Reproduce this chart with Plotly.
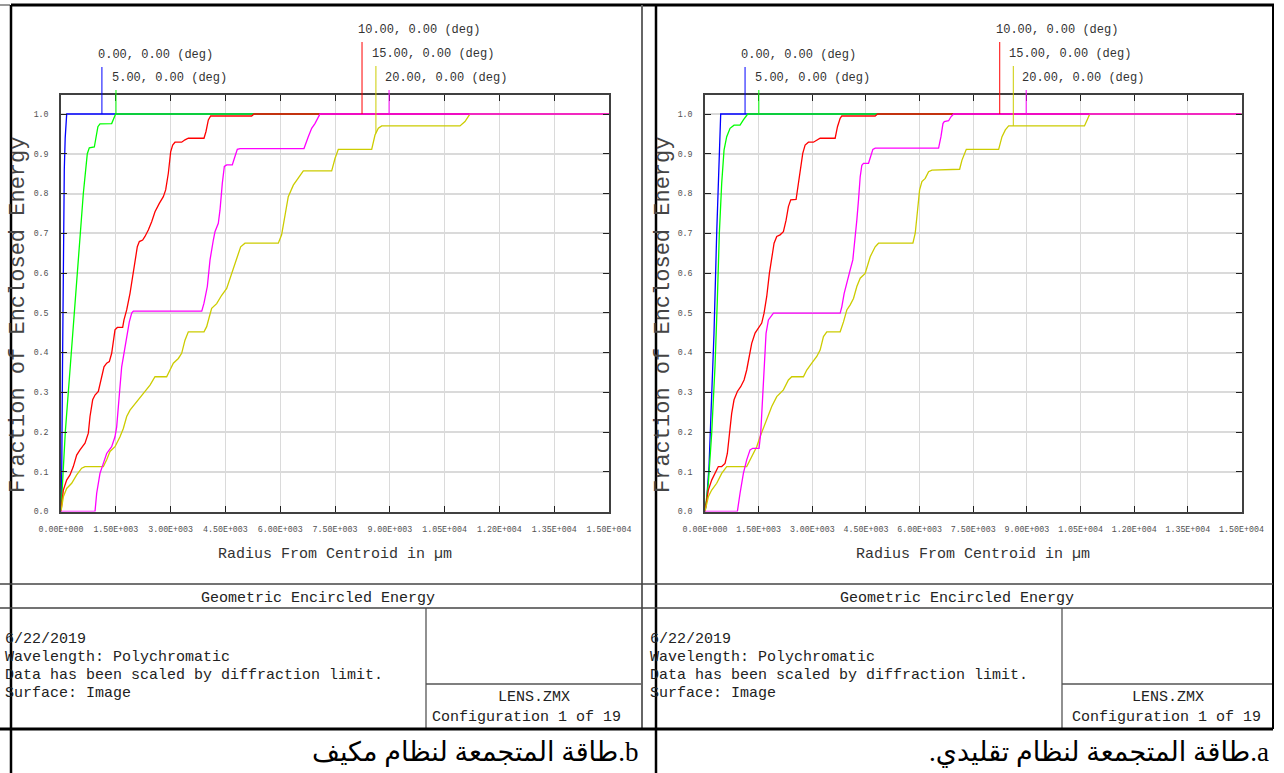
import numpy as np
import plotly.graph_objects as go

W, H = 1284, 773

# ---------------------------------------------------------------- data ----
field_names = ["0.00, 0.00 (deg)", "5.00, 0.00 (deg)", "10.00, 0.00 (deg)",
               "15.00, 0.00 (deg)", "20.00, 0.00 (deg)"]
field_colors = ["#0000ff", "#00ff00", "#ff0000", "#cccc00", "#ff00ff"]
# radius (µm) at which each field's tag stem is drawn
label_radius = [1120, 1505, 8240, 8620, 8980]

x_tick_vals = [0, 1500, 3000, 4500, 6000, 7500, 9000, 10500, 12000, 13500, 15000]
x_tick_text = ["0.00E+000", "1.50E+003", "3.00E+003", "4.50E+003", "6.00E+003",
               "7.50E+003", "9.00E+003", "1.05E+004", "1.20E+004", "1.35E+004",
               "1.50E+004"]
y_tick_vals = [0.0, 0.1, 0.2, 0.3, 0.4, 0.5, 0.6, 0.7, 0.8, 0.9, 1.0]
y_tick_text = ["0.0", "0.1", "0.2", "0.3", "0.4", "0.5", "0.6", "0.7", "0.8", "0.9", "1.0"]

# --- adaptive system (b): radius from centroid (µm) / enclosed fraction
b_r_0 = [0, 20, 40, 64, 90, 115, 156, 15000]
b_e_0 = [0, 0.10, 0.35, 0.70, 0.86, 0.94, 1.0, 1.0]

b_r_5 = [0, 40, 118, 447, 611, 720, 775, 912, 960, 1010, 1067, 1387, 1496, 15000]
b_e_5 = [0, 0.07, 0.2, 0.6, 0.8, 0.9, 0.915, 0.917, 0.945, 0.968, 0.975, 0.976, 1.0, 1.0]

b_r_10 = [0, 64, 155, 246, 337, 429, 520, 657, 748, 794, 867, 931, 1022, 1085, 1177,
          1250, 1323, 1387, 1478, 1542, 1688, 1724, 1798, 1889, 1962, 2025, 2089, 2144,
          2235, 2299, 2390, 2482, 2573, 2691, 2801, 2865, 2938, 3002, 3057, 3120, 3303,
          3394, 3485, 3914, 3969, 4033, 4097, 5219, 5283, 15000]
b_e_10 = [0, 0.054, 0.079, 0.092, 0.113, 0.142, 0.155, 0.172, 0.197, 0.239, 0.281, 0.293,
          0.302, 0.331, 0.364, 0.373, 0.377, 0.398, 0.457, 0.463, 0.463, 0.482, 0.507,
          0.549, 0.591, 0.633, 0.666, 0.679, 0.683, 0.692, 0.708, 0.729, 0.754, 0.775,
          0.792, 0.809, 0.851, 0.905, 0.922, 0.929, 0.929, 0.935, 0.939, 0.939, 0.956,
          0.985, 0.995, 0.995, 1.0, 1.0]

b_r_15 = [0, 64, 155, 292, 429, 566, 657, 1159, 1250, 1341, 1478, 1615, 1706, 1798, 1889,
          2071, 2253, 2436, 2573, 2892, 2983, 3075, 3212, 3303, 3394, 3485, 3914, 3987,
          4060, 4124, 4261, 4398, 4535, 4671, 4808, 4918, 5036, 5948, 6039, 6131, 6221,
          6359, 6542, 6633, 7409, 7500, 7590, 8504, 8595, 8686, 8778, 10921, 11058,
          11195, 15000]
b_e_15 = [0, 0.037, 0.058, 0.071, 0.092, 0.109, 0.113, 0.113, 0.130, 0.151, 0.163, 0.188,
          0.209, 0.239, 0.255, 0.276, 0.297, 0.318, 0.339, 0.339, 0.356, 0.373, 0.385,
          0.398, 0.431, 0.452, 0.452, 0.465, 0.490, 0.511, 0.523, 0.544, 0.561, 0.599,
          0.641, 0.666, 0.675, 0.675, 0.696, 0.741, 0.792, 0.821, 0.847, 0.857, 0.857,
          0.888, 0.911, 0.911, 0.947, 0.964, 0.970, 0.970, 0.981, 1.0, 1.0]

b_r_20 = [0, 931, 977, 1067, 1159, 1250, 1387, 1478, 1524, 1569, 1615, 1661, 1724, 1798,
          1870, 1935, 1980, 3853, 3914, 4005, 4079, 4170, 4215, 4306, 4352, 4416, 4471,
          4535, 4689, 4744, 4826, 4900, 6651, 6769, 6861, 6951, 7089, 15000]
b_e_20 = [0, 0, 0.046, 0.096, 0.121, 0.146, 0.163, 0.188, 0.213, 0.255, 0.314, 0.364,
          0.398, 0.431, 0.477, 0.499, 0.504, 0.504, 0.524, 0.566, 0.633, 0.683, 0.704,
          0.725, 0.758, 0.826, 0.868, 0.872, 0.872, 0.888, 0.911, 0.913, 0.913, 0.943,
          0.964, 0.976, 1.0, 1.0]

# --- conventional system (a)
a_r_0 = [0, 47, 112, 187, 252, 327, 392, 439, 15000]
a_e_0 = [0, 0.029, 0.113, 0.281, 0.449, 0.70, 0.909, 1.0, 1.0]

a_r_5 = [0, 93, 187, 280, 345, 401, 467, 532, 607, 700, 812, 980, 1073, 1166, 1194, 15000]
a_e_5 = [0, 0.071, 0.197, 0.365, 0.532, 0.70, 0.826, 0.909, 0.943, 0.964, 0.972, 0.972,
         0.985, 0.998, 1.0, 1.0]

a_r_10 = [0, 93, 187, 280, 373, 467, 560, 625, 681, 746, 812, 905, 998, 1092, 1166, 1241,
          1306, 1400, 1493, 1586, 1651, 1726, 1800, 1866, 1931, 2006, 2099, 2192, 2267,
          2332, 2397, 2547, 2584, 2659, 2733, 2799, 2892, 3032, 3125, 3219, 3639, 3704,
          3779, 3825, 4758, 4824, 15000]
a_e_10 = [0, 0.054, 0.079, 0.096, 0.113, 0.113, 0.121, 0.146, 0.197, 0.247, 0.281, 0.302,
          0.314, 0.331, 0.356, 0.390, 0.423, 0.449, 0.461, 0.474, 0.499, 0.541, 0.599,
          0.641, 0.675, 0.692, 0.696, 0.704, 0.733, 0.767, 0.784, 0.785, 0.809, 0.859,
          0.901, 0.922, 0.929, 0.929, 0.935, 0.939, 0.939, 0.968, 0.989, 0.995, 0.995,
          1.0, 1.0]

a_r_15 = [0, 93, 187, 327, 467, 607, 1166, 1260, 1353, 1446, 1540, 1633, 1726, 1866, 2006,
          2192, 2332, 2426, 2752, 2845, 2985, 3125, 3219, 3312, 3405, 3779, 3872, 3965,
          4059, 4152, 4245, 4339, 4478, 4619, 4758, 4851, 5813, 5878, 5943, 6000, 6065,
          6158, 6251, 6345, 7119, 7185, 7306, 8210, 8304, 8397, 8490, 10609, 10684,
          10758, 15000]
a_e_15 = [0, 0.037, 0.054, 0.071, 0.096, 0.113, 0.113, 0.130, 0.146, 0.163, 0.188, 0.209,
          0.230, 0.264, 0.289, 0.306, 0.331, 0.339, 0.339, 0.356, 0.373, 0.390, 0.406,
          0.440, 0.452, 0.452, 0.477, 0.507, 0.520, 0.536, 0.566, 0.587, 0.599, 0.641,
          0.666, 0.675, 0.675, 0.700, 0.758, 0.809, 0.830, 0.838, 0.855, 0.859, 0.861,
          0.884, 0.911, 0.911, 0.943, 0.960, 0.970, 0.970, 0.985, 1.0, 1.0]

a_r_20 = [0, 905, 980, 1073, 1166, 1260, 1334, 1511, 1558, 1614, 1661, 1707, 1773, 1866,
          1913, 3779, 3825, 3891, 3965, 4059, 4133, 4199, 4245, 4292, 4339, 4385, 4432,
          4572, 4619, 4693, 4758, 6531, 6597, 6653, 6690, 6811, 6877, 6951, 15000]
a_e_20 = [0, 0, 0.046, 0.096, 0.130, 0.155, 0.159, 0.159, 0.197, 0.281, 0.364, 0.448,
          0.482, 0.494, 0.499, 0.499, 0.515, 0.549, 0.578, 0.608, 0.633, 0.683, 0.733,
          0.784, 0.842, 0.871, 0.876, 0.876, 0.892, 0.911, 0.914, 0.914, 0.943, 0.976,
          0.981, 0.983, 0.993, 1.0, 1.0]

panel_b_curves = [(b_r_0, b_e_0), (b_r_5, b_e_5), (b_r_10, b_e_10),
                  (b_r_15, b_e_15), (b_r_20, b_e_20)]
panel_a_curves = [(a_r_0, a_e_0), (a_r_5, a_e_5), (a_r_10, a_e_10),
                  (a_r_15, a_e_15), (a_r_20, a_e_20)]

caption_b = "\u202bb.طاقة المتجمعة لنظام مكيف\u202c"
caption_a = "\u202ba.طاقة المتجمعة لنظام تقليدي.\u202c"
info_lines = ["6/22/2019", "Wavelength: Polychromatic",
              "Data has been scaled by diffraction limit.", "Surface: Image"]

# -------------------------------------------------------------- layout ----
PLOT_TOP, PLOT_BOTTOM = 95, 511.5
Y_MAX = 1.0478
stem_top_px = [67, 90, 42, 66, 90]
MONO = "Liberation Mono"


def fx(px):
    return px / W


def fy(py):
    return 1 - py / H


def val_to_paper(v):
    lo, hi = fy(PLOT_BOTTOM), fy(PLOT_TOP)
    return lo + v / Y_MAX * (hi - lo)


def note(px, py, text, size=15, color="#222222", family=MONO, xanchor="center", **kw):
    return dict(x=fx(px), y=fy(py), xref="paper", yref="paper", text=text,
                showarrow=False, xanchor=xanchor, yanchor="middle",
                font=dict(family=family, size=size, color=color), **kw)


panels = [
    dict(curves=panel_b_curves, xa="x", ya="y", x0=61, x1=609, dx=0,
         title_cx=318, info_split=426, right_edge=642, lens_cx=534, conf_cx=526,
         ytitle_x=18, caption=caption_b, caption_right=641),
    dict(curves=panel_a_curves, xa="x2", ya="y2", x0=705, x1=1241.5, dx=645,
         title_cx=957, info_split=1062, right_edge=1273, lens_cx=1168, conf_cx=1166,
         ytitle_x=663, caption=caption_a, caption_right=1271),
]

fig = go.Figure()
shapes, annotations = [], []

axis_common = dict(showline=True, linecolor="#404040", linewidth=1.5, mirror="ticks",
                   ticks="inside", ticklen=6, tickwidth=1.2, tickcolor="#202020",
                   showgrid=True, gridcolor="#dadada", zeroline=False, fixedrange=True,
                   automargin=False,
                   tickfont=dict(family=MONO, size=8.3, color="#505050"))

layout_axes = {}
for k, p in enumerate(panels):
    sfx = "" if k == 0 else "2"
    layout_axes["xaxis" + sfx] = dict(axis_common, domain=[fx(p["x0"]), fx(p["x1"])],
                                      anchor="y" + sfx, range=[0, 15000],
                                      tickvals=x_tick_vals, ticktext=x_tick_text,
                                      ticklabelstandoff=9, gridwidth=1)
    layout_axes["yaxis" + sfx] = dict(axis_common, domain=[fy(PLOT_BOTTOM), fy(PLOT_TOP)],
                                      anchor="x" + sfx, range=[0, Y_MAX],
                                      tickvals=y_tick_vals, ticktext=y_tick_text,
                                      ticklabelstandoff=9, gridwidth=1.5)

    # encircled-energy curves
    for (r, e), col, name in zip(p["curves"], field_colors, field_names):
        fig.add_trace(go.Scatter(x=r, y=e, mode="lines", name=name,
                                 line=dict(color=col, width=1.3),
                                 xaxis=p["xa"], yaxis=p["ya"], showlegend=False,
                                 hoverinfo="skip"))

    # field tags: stem dropping onto the curve plus the field label
    for (r, e), col, name, rx, top in zip(p["curves"], field_colors, field_names,
                                          label_radius, stem_top_px):
        v = float(np.interp(rx, r, e))
        shapes.append(dict(type="line", xref=p["xa"], yref="paper", x0=rx, x1=rx,
                           y0=val_to_paper(v), y1=fy(top),
                           line=dict(color=col, width=1), layer="above"))
        annotations.append(dict(x=rx, xref=p["xa"], y=fy(top - 12), yref="paper",
                                text=name, showarrow=False, xanchor="left",
                                yanchor="middle", xshift=-6,
                                font=dict(family=MONO, size=12, color="#333333")))

    # axis titles
    cx = (p["x0"] + p["x1"]) / 2
    annotations.append(note(cx, 554, "Radius From Centroid in µm", color="#333333"))
    annotations.append(note(p["ytitle_x"], 315, "Fraction of Enclosed Energy", size=22,
                            color="#444444", textangle=-90))

    # title block
    annotations.append(note(p["title_cx"], 598, "Geometric Encircled Energy"))
    for i, line in enumerate(info_lines):
        annotations.append(note(3 + p["dx"], 639 + 18.3 * i, line, xanchor="left"))
    annotations.append(note(p["lens_cx"], 697, "LENS.ZMX"))
    annotations.append(note(p["conf_cx"], 717, "Configuration 1 of 19"))
    annotations.append(note(p["caption_right"], 752, p["caption"], size=27,
                            color="#000000", family="Liberation Serif, DejaVu Sans",
                            xanchor="right"))

    # info box dividers
    shapes.append(dict(type="line", xref="paper", yref="paper",
                       x0=fx(p["info_split"]), x1=fx(p["info_split"]),
                       y0=fy(608), y1=fy(729), line=dict(color="#555555", width=1.3)))
    shapes.append(dict(type="line", xref="paper", yref="paper",
                       x0=fx(p["info_split"]), x1=fx(p["right_edge"]),
                       y0=fy(684), y1=fy(684), line=dict(color="#555555", width=1.3)))


def seg(x0, y0, x1, y1, color, width):
    return dict(type="line", xref="paper", yref="paper", x0=fx(x0), y0=fy(y0),
                x1=fx(x1), y1=fy(y1), line=dict(color=color, width=width))


# page frame
shapes += [
    seg(0, 5, 10, 5, "#777777", 1.5),
    seg(11, 5, 1274, 5, "#000000", 3),
    seg(11, 5, 11, 773, "#000000", 2.5),
    seg(642, 5, 642, 729, "#666666", 2),
    seg(656, 5, 656, 773, "#000000", 2.5),
    seg(1273, 5, 1273, 729, "#000000", 2),
    seg(0, 584, 1273, 584, "#444444", 1.3),
    seg(0, 608, 1273, 608, "#444444", 1.3),
    seg(0, 729, 1273, 729, "#000000", 3),
]

fig.update_layout(template="none", width=W, height=H,
                  margin=dict(l=0, r=0, t=0, b=0, pad=0, autoexpand=False),
                  paper_bgcolor="white", plot_bgcolor="white", showlegend=False,
                  shapes=shapes, annotations=annotations, **layout_axes)

fig.write_html("out.html")
